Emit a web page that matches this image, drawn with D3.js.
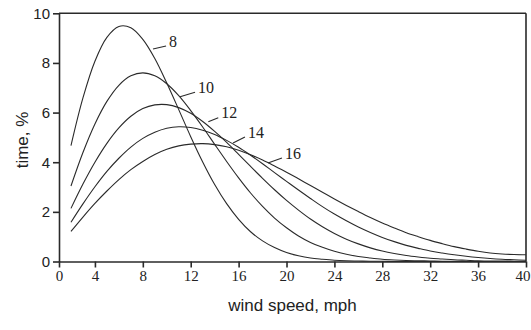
<!DOCTYPE html>
<html><head><meta charset="utf-8">
<script src="https://cdn.jsdelivr.net/npm/d3@7/dist/d3.min.js"></script>
<style>body{margin:0;background:#fff}</style>
</head><body>
<svg id="chart" width="531" height="330"></svg>
<script>
// wind speed (mph) at which each curve is sampled
const speeds = [2,3,4,5,6,7,8,9,10,11,12,13,14,15,16,17,18,19,20,21,22,23,24,25,26,27,28,29,30,31,32,33,34,35,36,37,38,39,40];
// time (%) for mean wind speed 8, 10, 12, 14, 16 mph
const curve8  = [4.67,6.59,8.07,9.03,9.47,9.42,8.95,8.18,7.19,6.12,5.03,4.01,3.10,2.33,1.70,1.20,0.83,0.56,0.36,0.23,0.14,0.09,0.05,0.03,0.02,0.01,0.01,0,0,0,0,0,0,0,0,0,0,0,0];
const curve10 = [3.04,4.39,5.54,6.45,7.10,7.48,7.60,7.48,7.16,6.68,6.08,5.42,4.72,4.03,3.37,2.76,2.22,1.75,1.36,1.03,0.77,0.57,0.41,0.29,0.20,0.14,0.09,0.06,0.04,0.03,0.02,0.01,0.01,0,0,0,0,0,0];
const curve12 = [2.14,3.12,4.00,4.76,5.38,5.85,6.16,6.31,6.32,6.20,5.97,5.64,5.24,4.80,4.32,3.83,3.35,2.89,2.46,2.07,1.71,1.40,1.13,0.90,0.71,0.55,0.42,0.32,0.24,0.18,0.13,0.10,0.07,0.05,0.03,0.02,0.02,0.01,0.01];
const curve14 = [1.58,2.32,3.01,3.63,4.16,4.61,4.96,5.21,5.37,5.43,5.40,5.29,5.12,4.88,4.60,4.28,3.94,3.58,3.23,2.88,2.54,2.21,1.91,1.64,1.39,1.17,0.97,0.80,0.65,0.53,0.42,0.34,0.27,0.21,0.16,0.12,0.09,0.07,0.05];
const curve16 = [1.21,1.79,2.34,2.84,3.30,3.70,4.03,4.31,4.52,4.66,4.73,4.75,4.71,4.62,4.48,4.30,4.09,3.85,3.60,3.33,3.06,2.79,2.52,2.26,2.01,1.77,1.55,1.35,1.16,1.00,0.85,0.72,0.60,0.50,0.41,0.34,0.30,0.28,0.27];
const curveNames = ["8","10","12","14","16"];
// curve label leader lines: start on curve and end at label (speed, time %)
const leaderStart = [[8.85,8.56],[11.11,6.64],[13.47,5.63],[15.53,4.77],[18.45,3.97]];
const leaderEnd   = [[9.94,8.68],[12.36,6.82],[14.30,5.79],[16.53,5.02],[19.62,4.17]];
// axis ticks
const xTickValues = [1,4,8,12,16,20,24,28,32,36,40];
const xTickLabels = ["0","4","8","12","16","20","24","28","32","36","40"];
const yTickValues = [0,2,4,6,8,10];
const yTickLabels = ["0","2","4","6","8","10"];

const series = [curve8, curve10, curve12, curve14, curve16];
const svg = d3.select("#chart");
const x = d3.scaleLinear().domain([1,40]).range([59,526]);
const y = d3.scaleLinear().domain([0,10]).range([261.5,13.3]);
const ink = "#2a2a2a";

// frame top and right
svg.append("line").attr("x1",x(1)).attr("x2",x(40)).attr("y1",y(10)).attr("y2",y(10))
  .attr("stroke",ink).attr("stroke-width",1.6);
svg.append("line").attr("x1",x(40)).attr("x2",x(40)).attr("y1",y(10)).attr("y2",y(0))
  .attr("stroke",ink).attr("stroke-width",1.6);

// curves
const line = d3.line().x((d,i)=>x(speeds[i])).y(d=>y(Math.max(0,d))).curve(d3.curveCatmullRom.alpha(0.5));
series.forEach((s,k)=>{
  svg.append("path").datum(s).attr("d",line).attr("fill","none")
    .attr("stroke",ink).attr("stroke-width",1.1);
});

// axes
const xAxis = d3.axisBottom(x).tickValues(xTickValues).tickFormat((d,i)=>xTickLabels[i])
  .tickSizeInner(6).tickSizeOuter(0).tickPadding(3);
const gx = svg.append("g").attr("transform",`translate(0,${y(0)})`).call(xAxis);
const yAxis = d3.axisLeft(y).tickValues(yTickValues).tickFormat((d,i)=>yTickLabels[i])
  .tickSizeInner(6).tickSizeOuter(0).tickPadding(3);
const gy = svg.append("g").attr("transform",`translate(${x(1)},0)`).call(yAxis);
[gx,gy].forEach(g=>{
  g.selectAll("path,line").attr("stroke",ink).attr("stroke-width",1.6);
});
gx.selectAll("text").attr("font-family","Liberation Serif").attr("font-size",15).attr("fill","#222");
gx.selectAll(".tick").filter(d=>d===40).select("text").attr("text-anchor","end").attr("dx",4);
gy.selectAll("text").attr("font-family","Liberation Sans").attr("font-size",15).attr("fill","#222");

// curve labels
curveNames.forEach((n,i)=>{
  const s = leaderStart[i], e = leaderEnd[i];
  svg.append("line").attr("x1",x(s[0])).attr("y1",y(s[1])).attr("x2",x(e[0])).attr("y2",y(e[1]))
    .attr("stroke",ink).attr("stroke-width",1.1);
  svg.append("text").attr("x",x(e[0])+3).attr("y",y(e[1])-3).attr("dominant-baseline","middle")
    .attr("font-family","Liberation Serif").attr("font-size",16).attr("fill","#222").text(n);
});

// axis titles
svg.append("text").attr("x",(x(1)+x(40))/2).attr("y",311).attr("text-anchor","middle")
  .attr("font-family","Liberation Sans").attr("font-size",17).attr("fill","#222").text("wind speed, mph");
svg.append("text").attr("transform","translate(28,140) rotate(-90)").attr("text-anchor","middle")
  .attr("font-family","Liberation Sans").attr("font-size",17).attr("fill","#222").text("time, %");
</script>
</body></html>
